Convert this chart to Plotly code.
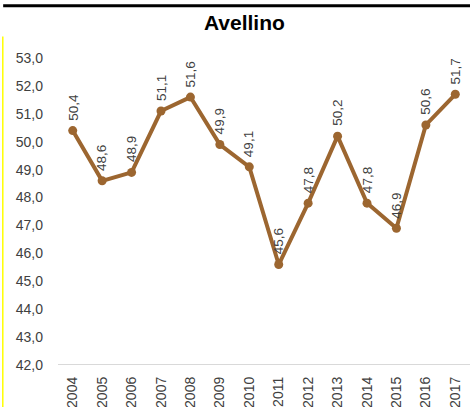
import plotly.graph_objects as go

years = ["2004", "2005", "2006", "2007", "2008", "2009", "2010",
         "2011", "2012", "2013", "2014", "2015", "2016", "2017"]
values = [50.4, 48.6, 48.9, 51.1, 51.6, 49.9, 49.1,
          45.6, 47.8, 50.2, 47.8, 46.9, 50.6, 51.7]
y_ticks = [42, 43, 44, 45, 46, 47, 48, 49, 50, 51, 52, 53]

line_color = "#9C6630"
font_family = "Liberation Sans, Arial, sans-serif"

fig = go.Figure()
fig.add_trace(go.Scatter(
    x=list(range(len(years))), y=values, mode="lines+markers",
    line=dict(color=line_color, width=4),
    marker=dict(color=line_color, size=9),
    hoverinfo="skip", showlegend=False, cliponaxis=False,
))

# rotated value labels above each point
for i, v in enumerate(values):
    fig.add_annotation(
        x=i, y=v, text=f"{v:.1f}".replace(".", ","), textangle=-90,
        showarrow=False, xanchor="center", yanchor="bottom", yshift=8,
        font=dict(family=font_family, size=13.5, color="#404040"),
    )

fig.update_layout(
    width=470, height=407,
    margin=dict(l=58, r=0, t=58, b=42),
    paper_bgcolor="white", plot_bgcolor="white",
    title=dict(text="<b>Avellino</b>", x=0.52, xanchor="center", y=0.945, yanchor="middle",
               font=dict(family=font_family, size=21, color="black")),
    xaxis=dict(
        range=[-0.5, len(years) - 0.5], tickmode="array",
        tickvals=list(range(len(years))), ticktext=years, tickangle=-90,
        showgrid=False, zeroline=False, showline=False, ticks="",
        ticklabelstandoff=8,
        tickfont=dict(family=font_family, size=14, color="#404040"),
    ),
    yaxis=dict(
        range=[42, 53], tickmode="array", tickvals=y_ticks,
        ticktext=[f"{t:.1f}".replace(".", ",") for t in y_ticks],
        showgrid=False, zeroline=False, showline=False, ticks="",
        ticklabelstandoff=14,
        tickfont=dict(family=font_family, size=14, color="#404040"),
    ),
    shapes=[
        dict(type="line", xref="paper", yref="y", x0=0, x1=1, y0=42, y1=42,
             line=dict(color="#D9D9D9", width=2)),
        dict(type="line", xref="paper", yref="paper", x0=-0.1331, x1=1.01,
             y0=1.17, y1=1.17, line=dict(color="black", width=3)),
        dict(type="line", xref="paper", yref="paper", x0=-0.134, x1=-0.134,
             y0=1.07, y1=-0.2, line=dict(color="#FFFF00", width=1.5)),
    ],
)

fig.write_html("out.html")
